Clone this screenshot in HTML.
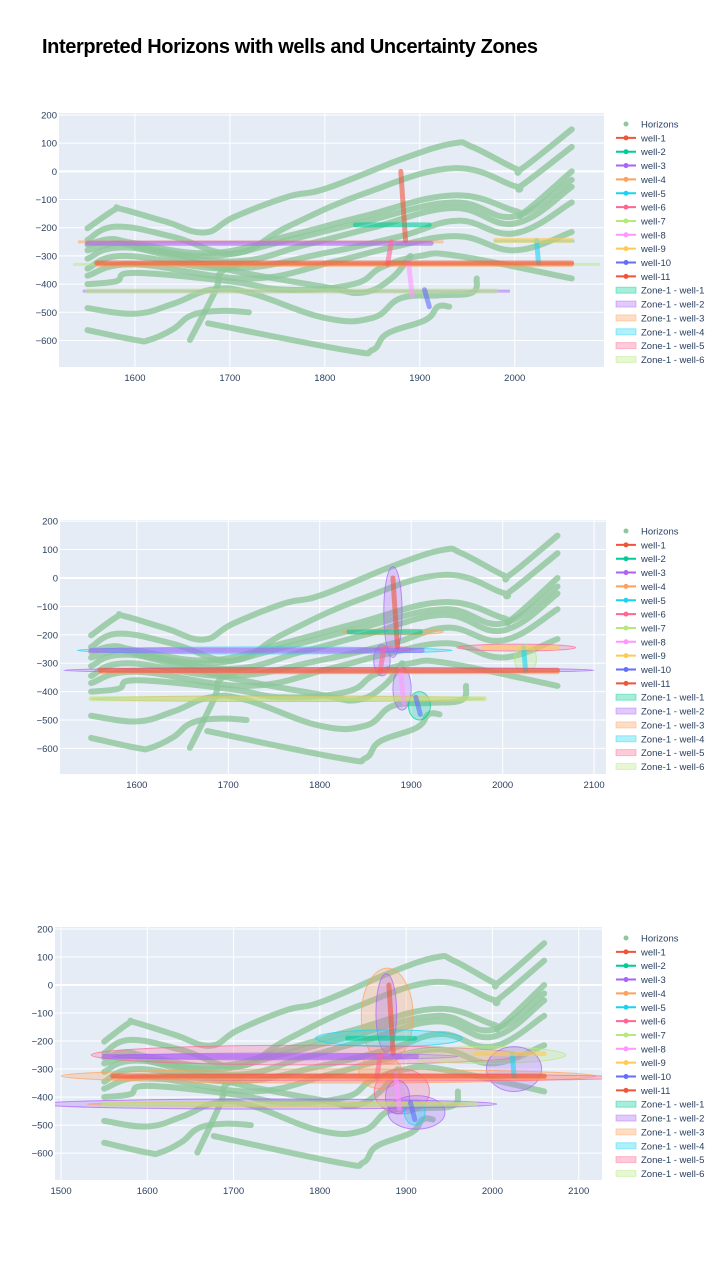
<!DOCTYPE html>
<html><head><meta charset="utf-8">
<style>
body{margin:0;background:#fff;width:720px;height:1280px;overflow:hidden;font-family:"Liberation Sans",sans-serif}
#title{position:absolute;left:42px;top:36px;font-size:20px;font-weight:bold;color:#000;letter-spacing:-0.4px}
svg{position:absolute;left:0;top:0}
</style></head><body>
<div id="title">Interpreted Horizons with wells and Uncertainty Zones</div>
<svg id="s" width="720" height="1280"></svg>
<script>
// ---- data ----
const horizons = [
 [[1550,-202],[1578,-137],[1586,-134],[1632,-178],[1673,-217],[1705,-161],[1761,-90],[1802,-60],[1883,46],[1935,99],[1955,87],[2000,11],[2008,11],[2060,149]],
 [[1550,-243],[1580,-196],[1640,-232],[1705,-291],[1761,-196],[1842,-78],[1935,11],[2000,-52],[2008,-48],[2060,87]],
 [[1550,-260],[1575,-240],[1600,-255],[1680,-290],[1760,-230],[1840,-160],[1935,-85],[2000,-140],[2010,-145],[2060,0]],
 [[1550,-280],[1580,-255],[1600,-265],[1680,-300],[1760,-245],[1840,-180],[1935,-110],[2000,-160],[2060,-30]],
 [[1550,-310],[1590,-270],[1700,-320],[1780,-260],[1850,-200],[1935,-130],[2000,-185],[2060,-55]],
 [[1550,-345],[1590,-300],[1700,-345],[1800,-290],[1880,-230],[1940,-175],[2000,-220],[2060,-110]],
 [[1550,-370],[1600,-330],[1720,-380],[1810,-320],[1870,-270],[1940,-230],[2000,-280],[2060,-215]],
 [[1550,-400],[1580,-390],[1600,-360],[1700,-390],[1760,-420],[1830,-400],[1860,-340],[1900,-300],[1940,-300],[2060,-380]],
 [[1550,-485],[1600,-505],[1640,-470],[1680,-420],[1720,-430],[1800,-520],[1850,-520],[1880,-450],[1920,-440],[1955,-430],[1960,-380]],
 [[1550,-563],[1600,-598],[1615,-598],[1640,-560],[1660,-510],[1690,-495],[1720,-500]],
 [[1677,-539],[1822,-634],[1850,-634],[1866,-575],[1906,-527],[1919,-480],[1931,-480]],
 [[1658,-598],[1685,-421],[1690,-360],[1710,-330]],
 [[1600,-270],[1700,-350],[1800,-410],[1840,-430],[1870,-380],[1890,-300]]
];
const wellNames = ["well-1","well-2","well-3","well-4","well-5","well-6","well-7","well-8","well-9","well-10","well-11"];
const wellColors = ["#EF553B","#00CC96","#AB63FA","#FFA15A","#19D3F3","#FF6692","#B6E880","#FF97FF","#FECB52","#636EFA","#EF553B"];
const wellStart = [[1880,0],[1832,-190],[1550,-255],[1560,-330],[2023,-245],[1870,-250],[1550,-425],[1888,-320],[1980,-245],[1905,-420],[1560,-325]];
const wellEnd = [[1885,-245],[1910,-190],[1912,-255],[2060,-330],[2025,-325],[1866,-330],[1980,-425],[1892,-440],[2060,-245],[1910,-480],[2060,-325]];
const zoneNames = ["Zone-1 - well-1","Zone-1 - well-2","Zone-1 - well-3","Zone-1 - well-4","Zone-1 - well-5","Zone-1 - well-6"];
const zoneColors = ["#00CC96","#AB63FA","#FFA15A","#19D3F3","#FF6692","#B6E880"];
// ellipses: [cx, cy, rx, ry, colorIndex]
const ellipses2 = [[1880,-120,10,160,1],[1868,-290,9,55,1],[1890,-390,10,75,1],[1909,-450,12,50,0],[1880,-190,55,10,2],[1740,-255,205,12,3],[1880,-250,20,8,4],[2015,-245,65,12,4],[2025,-285,12,50,5],[1810,-325,290,10,1],[1765,-425,215,10,2]];
const ellipses3 = [[1878,-110,30,170,2],[1877,-100,12,140,1],[1880,-190,85,30,3],[1785,-250,250,35,4],[1760,-255,200,12,1],[1990,-250,95,30,5],[2025,-300,32,80,1],[1810,-325,310,25,2],[1860,-330,300,12,4],[1870,-310,25,60,2],[1895,-380,32,80,4],[1890,-400,14,60,1],[1912,-455,33,60,1],[1910,-455,12,45,3],[1740,-425,265,18,1],[1750,-425,220,8,2]];
// thin uncertainty lines chart1: [x0,x1,y,colorIndex]
const thin1 = [[1540,1925,-250,2],[1535,2090,-330,5],[1545,1995,-425,1],[1978,2063,-247,3]];
const xTicks1 = [1600,1700,1800,1900,2000];
const xTicks2 = [1600,1700,1800,1900,2000,2100];
const xTicks3 = [1500,1600,1700,1800,1900,2000,2100];
const yTicks = [200,100,0,-100,-200,-300,-400,-500,-600];

const charts = [
 {L:59,R:604,T:113,B:367,x0:1520,x1:2094,y0:-694,y1:207,xt:xTicks1,ell:[],thin:thin1,legY:124},
 {L:60,R:606,T:520,B:774,x0:1516,x1:2113,y0:-690,y1:204,xt:xTicks2,ell:ellipses2,thin:[],legY:531},
 {L:55,R:602,T:927,B:1180,x0:1493,x1:2127,y0:-696,y1:207,xt:xTicks3,ell:ellipses3,thin:[],legY:938}
];
const S=document.getElementById('s'),NS='http://www.w3.org/2000/svg';
function mk(tag,at,par){const e=document.createElementNS(NS,tag);for(const k in at)e.setAttribute(k,at[k]);(par||S).appendChild(e);return e;}
function smooth(P){ // catmull-rom to bezier
 let d='M'+P[0][0]+','+P[0][1];
 for(let i=0;i<P.length-1;i++){const p0=P[i-1]||P[i],p1=P[i],p2=P[i+1],p3=P[i+2]||p2;
  const t=0.2;
  d+=' C'+(p1[0]+(p2[0]-p0[0])*t)+','+(p1[1]+(p2[1]-p0[1])*t)+' '+(p2[0]-(p3[0]-p1[0])*t)+','+(p2[1]-(p3[1]-p1[1])*t)+' '+p2[0]+','+p2[1];}
 return d;}
charts.forEach((c,ci)=>{
 const sx=v=>c.L+(v-c.x0)/(c.x1-c.x0)*(c.R-c.L);
 const sy=v=>c.B-(v-c.y0)/(c.y1-c.y0)*(c.B-c.T);
 const g=mk('g',{});
 
 
 const bg=mk('rect',{x:c.L,y:c.T,width:c.R-c.L,height:c.B-c.T,fill:'#E5ECF6'},g);
 
 
 c.xt.forEach(t=>{const X=sx(t);
  mk('line',{x1:X,x2:X,y1:c.T,y2:c.B,stroke:'#fff','stroke-width':1},g);
  const tx=mk('text',{x:X,y:c.B+14,'font-size':9.5,fill:'#2a3f5f','text-anchor':'middle'},g);tx.textContent=t;
  
  });
 yTicks.forEach(t=>{const Y=sy(t);
  mk('line',{x1:c.L,x2:c.R,y1:Y,y2:Y,stroke:'#fff','stroke-width':t===0?2:1},g);
  const tx=mk('text',{x:c.L-2,y:Y+3.5,'font-size':9.5,fill:'#2a3f5f','text-anchor':'end'},g);tx.textContent=t<0?'\u2212'+(-t):t;
  
  });
 const clip='cl'+ci;const cp=mk('clipPath',{id:clip},g);mk('rect',{x:c.L,y:c.T,width:c.R-c.L,height:c.B-c.T},cp);
 const pg=mk('g',{'clip-path':'url(#'+clip+')'},g);
 horizons.forEach(h=>{const p=mk('path',{d:smooth(h.map(q=>[sx(q[0]),sy(q[1])])),fill:'none',stroke:'#8fc79b','stroke-opacity':0.8,'stroke-width':6,'stroke-linejoin':'round','stroke-linecap':'round'},pg);
  
  });
 c.thin.forEach(t=>{const l=mk('line',{x1:sx(t[0]),x2:sx(t[1]),y1:sy(t[2]),y2:sy(t[2]),stroke:zoneColors[t[3]],'stroke-opacity':0.5,'stroke-width':3},pg);
  
  });
 c.ell.forEach(e=>{const el=mk('ellipse',{cx:sx(e[0]),cy:sy(e[1]),rx:Math.abs(sx(e[0]+e[2])-sx(e[0])),ry:Math.abs(sy(e[1]+e[3])-sy(e[1])),fill:zoneColors[e[4]],'fill-opacity':0.28,stroke:zoneColors[e[4]],'stroke-opacity':0.7,'stroke-width':1},pg);
  
  });
 wellNames.forEach((n,i)=>{const l=mk('line',{x1:sx(wellStart[i][0]),y1:sy(wellStart[i][1]),x2:sx(wellEnd[i][0]),y2:sy(wellEnd[i][1]),stroke:wellColors[i],'stroke-opacity':0.6,'stroke-width':5,'stroke-linecap':'round'},pg);
  
  });
 // legend
 let y=c.legY;const lx=616;
 const lg=mk('g',{},g);
 
 
 const items=[['Horizons','h']].concat(wellNames.map((n,i)=>[n,'w',wellColors[i]])).concat(zoneNames.map((n,i)=>[n,'z',zoneColors[i]]));
 items.forEach(it=>{const ig=mk('g',{},lg);
  
  
  if(it[1]==='h')mk('circle',{cx:lx+10,cy:y,r:2.5,fill:'#8fc79b'},ig);
  else if(it[1]==='w'){mk('line',{x1:lx,x2:lx+20,y1:y,y2:y,stroke:it[2],'stroke-width':2},ig);mk('circle',{cx:lx+10,cy:y,r:2.5,fill:it[2]},ig);}
  else mk('rect',{x:lx,y:y-3,width:20,height:6,fill:it[2],'fill-opacity':0.35,stroke:it[2],'stroke-opacity':0.4},ig);
  const t=mk('text',{x:lx+25,y:y+3.5,'font-size':9.5,fill:'#2a3f5f'},ig);t.textContent=it[0];
  y+=13.85;});
});
</script>
</body></html>
